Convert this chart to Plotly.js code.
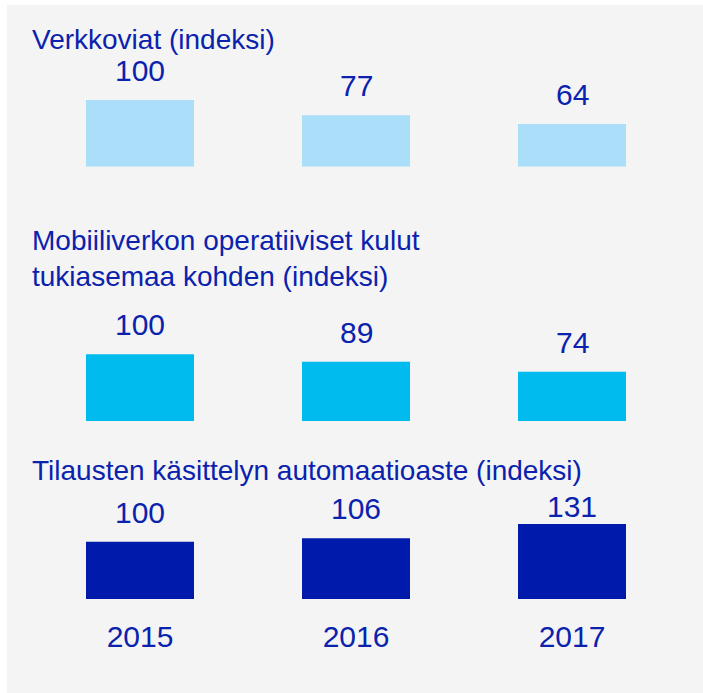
<!DOCTYPE html>
<html><head><meta charset="utf-8">
<script src="https://cdn.plot.ly/plotly-3.0.1.min.js"></script>
<style>
html,body{margin:0;padding:0;background:#ffffff;}
#chart{position:absolute;left:7px;top:5px;width:696px;height:688px;}
</style>
</head><body><div id="chart"></div>
<script>
// ---- data ----
const years = ['2015', '2016', '2017'];
const panelTitles = [
  'Verkkoviat (indeksi)',
  'Mobiiliverkon operatiiviset kulut<br>tukiasemaa kohden (indeksi)',
  'Tilausten käsittelyn automaatioaste (indeksi)'
];
const verkkoviat = [100, 77, 64];
const mobiiliKulut = [100, 89, 74];
const automaatioaste = [100, 106, 131];
const seriesList = [verkkoviat, mobiiliKulut, automaatioaste];

// ---- layout / style ----
const W = 696, H = 688;
const TEXT = '#0a22ad';
const FONT = 'Liberation Sans, Arial, sans-serif';
const panels = [
  {bottom: 161.7, top: 45,  max: 175,   color: '#abdff9', titleTop: 16.5,  labelMax: Infinity},
  {bottom: 416,   top: 296, max: 180,   color: '#00bbee', titleTop: 218,   labelMax: Infinity},
  {bottom: 594,   top: 494, max: 174.5, color: '#001aab', titleTop: 447.5, labelMax: 110}
];
const xDom = [25 / W, 673 / W];

const data = [];
const annotations = [];
const layout = {
  width: W, height: H,
  margin: {l: 0, r: 0, t: 0, b: 0},
  paper_bgcolor: '#f4f4f4',
  plot_bgcolor: 'rgba(0,0,0,0)',
  showlegend: false,
  bargap: 0.5,
  font: {family: FONT, color: TEXT},
  annotations: annotations
};

panels.forEach((p, i) => {
  const n = i + 1;
  const xa = n === 1 ? 'x' : 'x' + n;
  const ya = n === 1 ? 'y' : 'y' + n;
  const vals = seriesList[i];
  data.push({
    type: 'bar', x: years, y: vals, xaxis: xa, yaxis: ya,
    marker: {color: p.color, line: {width: 0}},
    hoverinfo: 'skip'
  });
  layout[n === 1 ? 'xaxis' : 'xaxis' + n] = {
    domain: xDom, anchor: ya, type: 'category', range: [-0.5, 2.5],
    showgrid: false, zeroline: false, showline: false, ticks: '',
    showticklabels: n === 3,
    tickfont: {size: 30, color: TEXT, family: FONT},
    ticklabelstandoff: 17,
    fixedrange: true
  };
  layout[n === 1 ? 'yaxis' : 'yaxis' + n] = {
    domain: [1 - p.bottom / H, 1 - p.top / H], anchor: xa,
    range: [0, p.max], visible: false, fixedrange: true
  };
  vals.forEach((v, j) => {
    annotations.push({
      xref: xa, yref: ya, x: j, y: Math.min(v, p.labelMax),
      text: String(v), showarrow: false, yanchor: 'bottom', xanchor: 'center',
      yshift: 11, font: {size: 30, color: TEXT, family: FONT}
    });
  });
  annotations.push({
    xref: 'paper', yref: 'paper', x: 23 / W, y: 1 - p.titleTop / H,
    xanchor: 'left', yanchor: 'top', align: 'left', showarrow: false,
    text: panelTitles[i], font: {size: 28, color: TEXT, family: FONT}
  });
});

Plotly.newPlot('chart', data, layout, {displayModeBar: false, staticPlot: true});
</script>
</body></html>
